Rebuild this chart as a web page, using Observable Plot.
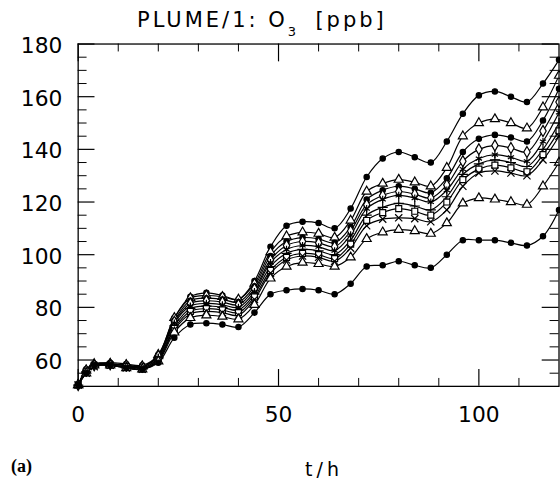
<!DOCTYPE html>
<html><head><meta charset="utf-8">
<script src="https://cdn.jsdelivr.net/npm/d3@7"></script>
<script src="https://cdn.jsdelivr.net/npm/@observablehq/plot@0.6"></script>
<style>
body{margin:0;background:#fff;}
#wrap{position:relative;width:560px;height:483px;overflow:hidden;background:#fff;}
#wrap svg{position:absolute;left:0;top:0;}
.lbl{position:absolute;white-space:nowrap;color:#000;}
#title{left:137px;top:10px;font-family:'DejaVu Sans';font-size:21px;line-height:21px;letter-spacing:3px;}
#title sub{font-size:13px;vertical-align:-9px;line-height:0;letter-spacing:0;}
#xlab{left:324px;top:460px;transform:translateX(-50%);font-family:'DejaVu Sans';font-size:19px;line-height:19px;letter-spacing:4px;}
#panel{left:11px;top:457px;font-family:'Liberation Serif';font-weight:bold;font-size:18px;line-height:18px;}
</style></head><body>
<div id="wrap">
  <div class="lbl" id="title">PLUME/1: O<sub>3</sub>&nbsp; [ppb]</div>
  <div class="lbl" id="xlab">t/h</div>
  <div class="lbl" id="panel">(a)</div>
</div>
<script>
// ---- data ----
const hours = [0,2,4,8,12,16,20,24,28,32,36,40,44,48,52,56,60,64,68,72,76,80,84,88,92,96,100,104,108,112,116,120];
const seriesNames = ["A","B","C","D","E","F","G","H","K","L"];
const A = [50.5,56.5,58.5,59,58.5,58,62,76,84,85.5,84.5,83,90,103,111,112.5,112,110,117.5,129.5,136.5,139,137,135,143,153.5,160.5,162,160,158,165,174];
const B = [50.5,56,58.5,58.5,58,57.5,62,76,83.5,84.5,84,83,89,101,107,108.5,108,106.5,113,124,127,128.5,127.5,126,133,145,150,151.5,150,148,156,168];
const C = [50.5,56,58.5,58.5,58,57.5,61.5,75,82.5,83.5,83,82,88,99.5,105,106.5,106,104.5,110.5,121,124.5,126,125,123.5,129,139,144,145.5,144.5,143,151,163];
const D = [50.5,56,58,58.5,58,57.5,61.5,74.5,81.5,82.5,82,81,87,98,103.5,105,104.5,103,109,119,122.5,124,123,121.5,126.5,135.5,140,141.5,140.5,139,147,158];
const E = [50.5,55.5,58,58.5,58,57,61,74,80.5,81.5,81,80,86,97,102,103.5,103,101.5,107.5,117.5,121,122.5,121.5,120,124.5,132.5,136.5,138,137,135.5,143,154];
const F = [50.5,55.5,58,58,57.5,57,60.5,73,79.5,80.5,80,79,85,95.5,100.5,102,101.5,100,105.5,115,118,119.5,118.5,117,122,130.5,134.5,136,135,133.5,140,150];
const G = [50.5,55.5,58,58,57.5,56.5,60,72,78.5,79.5,79,78,84,94,99,100.5,100,98.5,104,113,116,117.5,116.5,115,120,128.5,132.5,134,133,131.5,138,147];
const H = [50.5,55,57.5,58,57,56.5,60,71.5,77.5,78.5,78,77,83,93,98,99.5,99,97.5,102.5,111,113.5,114,113.7,112.5,117,126,131,131.8,131,130,136,145];
const K = [50.5,55,58,58,57,56.5,59.5,70.5,76,77,76.5,75.5,81,91,95.5,97,96.5,95.5,99,106,108.5,109.5,109,108,112,119.5,121.5,121,120,119,126,135];
const L = [50.5,55,58,58,57,56.5,59,68.5,73.5,74,73.5,72.5,78,85,86.5,87,86.5,85,89,95.5,96,97.5,96,95,100,105.5,105.5,105.5,104.5,103.5,107,117];
const yLabels = [60,80,100,120,140,160,180];
const yMinor = [55,65,70,75,85,90,95,105,110,115,125,130,135,145,150,155,165,170,175];
const xLabels = [0,50,100];
const xMinor = [10,20,30,40,60,70,80,90,110];

// ---- styles ----
const seriesValues = [A,B,C,D,E,F,G,H,K,L];
const symbols = ["circle","triangle","circle","diamond","asterisk","plus","square","times","triangle","circle"];
const filled  = [true,false,true,false,false,false,false,false,false,true];

const rows = seriesNames.flatMap((s,i) => hours.map((t,j) => ({s, t, v: seriesValues[i][j]})));

const W = 566, Hh = 483, mL = 78.5, mR = 1.5, mT = 44, mB = 93;
const plotW = W - mL - mR, plotH = Hh - mT - mB;

const chart = Plot.plot({
  width: W, height: Hh,
  marginLeft: mL, marginRight: mR, marginTop: mT, marginBottom: mB,
  x: {domain: [0,120], axis: null},
  y: {domain: [50,180], axis: null},
  style: {fontFamily: "DejaVu Sans", fontSize: "22px", background: "white", color: "black"},
  marks: [
    Plot.line(rows, {x: "t", y: "v", z: "s", curve: "catmull-rom", stroke: "black", strokeWidth: 1.2}),
    ...seriesNames.map((s,i) => Plot.dot(rows.filter(d => d.s === s), {
      x: "t", y: "v", symbol: symbols[i],
      r: filled[i] ? 2.7 : 3.4,
      fill: filled[i] ? "black" : (["asterisk","plus","times"].includes(symbols[i]) ? "none" : "white"),
      stroke: "black", strokeWidth: 1.2
    })),
    Plot.frame({stroke: "black", strokeWidth: 1.3}),
    Plot.tickY(yLabels, {y: d => d, insetRight: plotW - 17, stroke: "black", strokeWidth: 1.2}),
    Plot.tickY(yMinor,  {y: d => d, insetRight: plotW - 9,  stroke: "black", strokeWidth: 1}),
    Plot.tickY(yLabels, {y: d => d, insetLeft: plotW - 17, stroke: "black", strokeWidth: 1.2}),
    Plot.tickY(yMinor,  {y: d => d, insetLeft: plotW - 9,  stroke: "black", strokeWidth: 1}),
    Plot.tickX(xLabels, {x: d => d, insetBottom: plotH - 18, stroke: "black", strokeWidth: 1.2}),
    Plot.tickX(xMinor,  {x: d => d, insetBottom: plotH - 8,  stroke: "black", strokeWidth: 1}),
    Plot.tickX(xLabels, {x: d => d, insetTop: plotH - 17, stroke: "black", strokeWidth: 1.2}),
    Plot.tickX(xMinor,  {x: d => d, insetTop: plotH - 8,  stroke: "black", strokeWidth: 1}),
    Plot.text(yLabels, {y: d => d, frameAnchor: "left", dx: -16, dy: 2, textAnchor: "end", fontSize: 22, text: d => String(d)}),
    Plot.text(xLabels, {x: d => d, frameAnchor: "bottom", lineAnchor: "top", dy: 20, fontSize: 22, text: d => String(d)})
  ]
});
document.getElementById("wrap").prepend(chart);
</script>
</body></html>
